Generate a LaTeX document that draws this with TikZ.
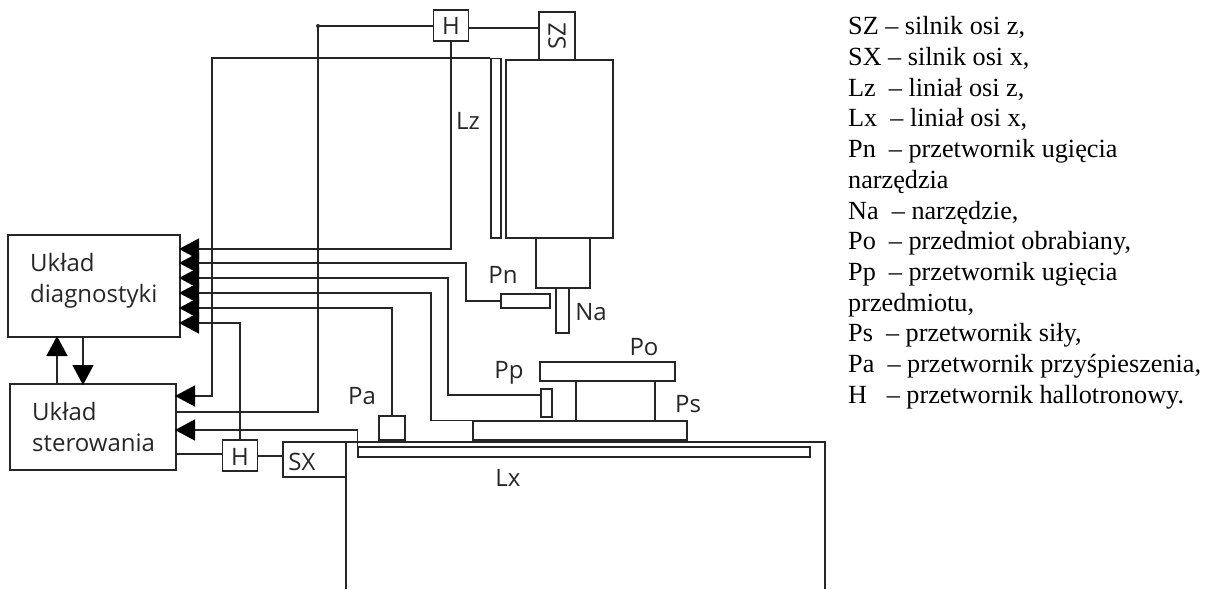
\documentclass[tikz,border=0pt]{standalone}
\usepackage{fontspec}
\setmainfont{Liberation Serif}
\newfontfamily\labelfont{Open Sans}
\usetikzlibrary{arrows.meta, positioning}

\begin{document}
\begin{tikzpicture}[
    x=1pt, y=-1pt,
    block/.style={rectangle, draw=black!85, line width=1.5pt, inner sep=0pt, align=left},
    tag/.style={inner sep=0pt, font=\labelfont\fontsize{24}{31}\selectfont, text=black!85},
    wire/.style={draw=black!85, line width=1.5pt},
    arrow/.style={wire, -{Triangle[length=20pt, width=21pt, color=black]}, shorten >=-1pt}
]
\useasboundingbox (0,0) rectangle (1212,589);

% sensor wiring ports
\coordinate (in1) at (180,249);
\coordinate (in2) at (180,263);
\coordinate (in3) at (180,278);
\coordinate (in4) at (180,293);
\coordinate (in5) at (180,308);
\coordinate (in6) at (180,323);
\coordinate (sterA) at (176,396);
\coordinate (sterB) at (176,412);
\coordinate (sterC) at (176,430);
\coordinate (sterD) at (176,454);
\coordinate (upA) at (57,384);
\coordinate (upB) at (57,337);
\coordinate (downA) at (83,337);
\coordinate (downB) at (83,384);
\coordinate (bedL) at (346,589);
\coordinate (bedR) at (825,589);
\coordinate (bedT) at (825,442);
\coordinate (hzLeft) at (318,26);
\coordinate (hzRight) at (468,28);
\coordinate (hxRight) at (258,456);
\coordinate (ppPort) at (541,395);
\coordinate (bendPn) at (466,263);
\coordinate (bendPp) at (448,278);
\coordinate (bendPlate) at (431,293);
\coordinate (bendRail) at (212,396);

% machine
\node (spindle) [block, minimum width=107pt, minimum height=178pt] at (559.5,149) {};
\node (chuck) [block, minimum width=54pt, minimum height=50pt] at (563,263) {};
\node (tool) [block, minimum width=13pt, minimum height=45pt] at (562.5,310.5) {};
\node (railz) [block, minimum width=10pt, minimum height=179.4pt] at (496,148.3) {};
\node (szbox) [block, minimum width=36pt, minimum height=48pt] at (557,36) {};
\node (hz) [block, minimum width=35pt, minimum height=31pt] at (451,25.5) {};
\node (pnbox) [block, minimum width=49pt, minimum height=14pt] at (525.5,301) {};
\node (workpiece) [block, minimum width=135pt, minimum height=19pt] at (607.5,371.5) {};
\node (force) [block, minimum width=79pt, minimum height=40pt] at (615.5,401) {};
\node (ppbox) [block, minimum width=11pt, minimum height=28pt] at (546.5,403) {};
\node (plate) [block, minimum width=214pt, minimum height=19pt] at (580,430.5) {};
\node (pabox) [block, minimum width=26pt, minimum height=24pt] at (392,428) {};
\node (railx) [block, minimum width=452pt, minimum height=10pt] at (584,452) {};
\node (sxbox) [block, minimum width=63pt, minimum height=35pt] at (314.5,459.5) {};
\node (hx) [block, minimum width=35pt, minimum height=31pt] at (240,455.5) {};
\node (diag) [block, minimum width=172pt, minimum height=102pt] at (94,286) {};
\node (ster) [block, minimum width=166pt, minimum height=86pt] at (93,427) {};

% labels
\node (diagtxt) [tag, anchor=west, align=left] at (30,281) {Układ\\diagnostyki};
\node (stertxt) [tag, anchor=west, align=left] at (32,427) {Układ\\sterowania};
\node (hztxt) [tag] at (451,26) {H};
\node (hxtxt) [tag] at (240,457) {H};
\node (sztxt) [tag, rotate=90] at (557,36) {SZ};
\node (sxtxt) [tag] at (302,462) {SX};
\node (lztxt) [tag] at (468,121) {Lz};
\node (lxtxt) [tag] at (508,478) {Lx};
\node (pntxt) [tag] at (503,275) {Pn};
\node (natxt) [tag] at (591,312) {Na};
\node (potxt) [tag] at (644,347) {Po};
\node (pptxt) [tag] at (509,373) {Pp};
\node (patxt) [tag] at (362,396) {Pa};
\node (pstxt) [tag] at (688,404) {Ps};

% legend
\node (legend) [anchor=north west, inner sep=0pt, align=left, font=\fontsize{26.2}{30.7}\selectfont] at (848,16.5) {%
SZ -- silnik osi z,\\
SX -- silnik osi x,\\
Lz~~-- liniał osi z,\\
Lx~~-- liniał osi x,\\
Pn~~-- przetwornik ugięcia\\
narzędzia\\
Na~~-- narzędzie,\\
Po~~-- przedmiot obrabiany,\\
Pp~~-- przetwornik ugięcia\\
przedmiotu,\\
Ps~~-- przetwornik siły,\\
Pa~~-- przetwornik przyśpieszenia,\\
H~~~-- przetwornik hallotronowy.};

% wiring
\draw [wire] (hzLeft) -- (hzLeft -| hz.west);
\draw [wire] (hzRight) -- (hzRight -| szbox.west);
\draw [arrow] (hz.south) |- (in1);
\draw [arrow] (pnbox.west) -| (bendPn) -- (in2);
\draw [arrow] (ppPort) -| (bendPp) -- (in3);
\draw [arrow] (plate.north west) -| (bendPlate) -- (in4);
\draw [arrow] (pabox.north) |- (in5);
\draw [arrow] (hx.north) |- (in6);
\draw [arrow] (railz.north west) -| (bendRail) -- (sterA);
\draw [wire] (hzLeft) |- (sterB);
\draw [arrow] (railx.north west) |- (sterC);
\draw [wire] (sterD) -- (sterD -| hx.west);
\draw [wire] (hxRight) -- (hxRight -| sxbox.west);
\draw [arrow] (upA) -- (upB);
\draw [arrow] (downA) -- (downB);
\draw [wire] (bedL) |- (bedT) -- (bedR);
\fill [black!85] (hzLeft) circle (2);
\end{tikzpicture}
\end{document}
